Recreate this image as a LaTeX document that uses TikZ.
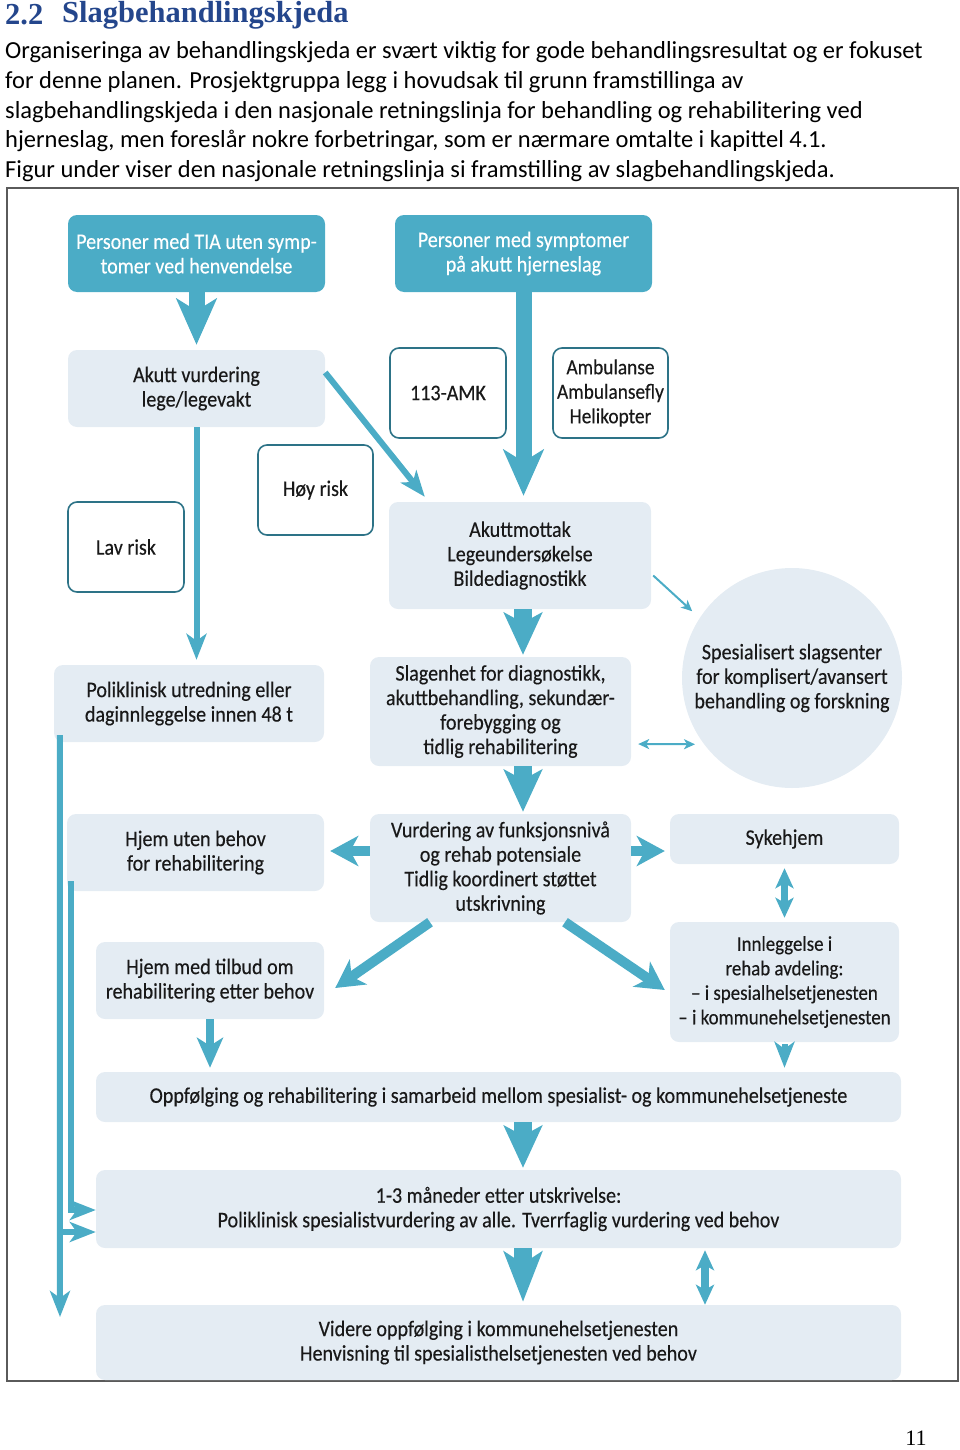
\documentclass[tikz,border=0pt]{standalone}
\usepackage{fontspec}
\setmainfont{Carlito}
\newfontfamily\headfont{Liberation Serif}
\newfontfamily\dfont[FakeStretch=0.9,FakeBold=0.3]{Carlito}
\usetikzlibrary{arrows.meta,calc}
\definecolor{teal1}{RGB}{75,172,198}
\definecolor{light1}{RGB}{228,236,243}
\definecolor{edge1}{RGB}{45,115,135}
\definecolor{head1}{RGB}{36,70,140}
\definecolor{frame1}{RGB}{90,90,90}
\begin{document}
\begin{tikzpicture}[x=1pt,y=-1pt,
  dtext/.style={font=\dfont\fontsize{22.3}{24.5}\selectfont, text=black!90, align=center},
  lbox/.style={dtext, rectangle, rounded corners=9pt, fill=light1, inner sep=0pt},
  tbox/.style={lbox, fill=teal1, text=white},
  wbox/.style={dtext, rectangle, rounded corners=9pt, draw=edge1, line width=1.6pt, fill=white, inner sep=0pt},
  btext/.style={font=\fontsize{24.5}{28}\selectfont, anchor=west, inner sep=0pt},
  fat/.style={draw=teal1, line width=16pt, -{Stealth[length=46pt,width=40pt,inset=12pt]}},
  fatb/.style={draw=teal1, line width=18pt, -{Stealth[length=42pt,width=38pt,inset=10pt]}},
  medarr/.style={draw=teal1, line width=10pt, -{Stealth[length=28pt,width=30pt,inset=8pt]}},
  thinarr/.style={draw=teal1, line width=6pt, -{Stealth[length=26pt,width=20pt,inset=7pt]}},
  dblarr/.style={draw=teal1, line width=7pt, {Stealth[length=20pt,width=18pt,inset=5pt]}-{Stealth[length=20pt,width=18pt,inset=5pt]}},
  hair/.style={draw=teal1, line width=2pt, -{Stealth[length=11pt,width=10pt,inset=3pt]}},
  hairb/.style={draw=teal1, line width=2pt, {Stealth[length=11pt,width=10pt,inset=3pt]}-{Stealth[length=11pt,width=10pt,inset=3pt]}}
]
\useasboundingbox (0,0) rectangle (960,1450);

% heading and body text
\node[btext, font=\headfont\bfseries\fontsize{30.5}{32}\selectfont, text=head1] (h1) at (5,15) {2.2};
\node[btext, font=\headfont\bfseries\fontsize{30.5}{32}\selectfont, text=head1] (h2) at (62,15) {Slagbehandlingskjeda};
\node[btext] (t1) at (5,52) {Organiseringa av behandlingskjeda er svært viktig for gode behandlingsresultat og er fokuset};
\node[btext] (t2) at (5,82) {for denne planen. Prosjektgruppa legg i hovudsak til grunn framstillinga av};
\node[btext] (t3) at (5,112) {slagbehandlingskjeda i den nasjonale retningslinja for behandling og rehabilitering ved};
\node[btext] (t4) at (5,141) {hjerneslag, men foreslår nokre forbetringar, som er nærmare omtalte i kapittel 4.1.};
\node[btext] (t5) at (5,171) {Figur under viser den nasjonale retningslinja si framstilling av slagbehandlingskjeda.};

% frame
\draw[frame1, line width=1.5pt] (7,188) rectangle (958,1381);

% nodes
\node[tbox, minimum width=257pt, minimum height=77pt] (tia) at (196.5,253.5) {Personer med TIA uten symp-\\tomer ved henvendelse};
\node[tbox, minimum width=257pt, minimum height=77pt] (sym) at (523.5,253.5) {Personer med symptomer\\på akutt hjerneslag};
\node[lbox, minimum width=257pt, minimum height=77pt] (akv) at (196.5,388.5) {Akutt vurdering\\lege/legevakt};
\node[wbox, minimum width=116pt, minimum height=90pt] (amk) at (448,393) {113-AMK};
\node[wbox, minimum width=115pt, minimum height=90pt, font=\dfont\fontsize{21.5}{24.5}\selectfont] (amb) at (610.5,393) {Ambulanse\\Ambulansefly\\Helikopter};
\node[wbox, minimum width=115pt, minimum height=90pt] (hoy) at (315.5,490) {Høy risk};
\node[wbox, minimum width=116pt, minimum height=90pt] (lav) at (126,547) {Lav risk};
\node[lbox, minimum width=262pt, minimum height=107pt] (mott) at (520,555.5) {Akuttmottak\\Legeundersøkelse\\Bildediagnostikk};
\node[dtext, circle, fill=light1, minimum size=220pt, inner sep=0pt] (spes) at (792,678) {Spesialisert slagsenter\\for komplisert/avansert\\behandling og forskning};
\node[lbox, minimum width=270pt, minimum height=77pt] (poli) at (189,703.5) {Poliklinisk utredning eller\\daginnleggelse innen 48 t};
\node[lbox, minimum width=261pt, minimum height=109pt] (slag) at (500.5,711.5) {Slagenhet for diagnostikk,\\akuttbehandling, sekundær-\\forebygging og\\tidlig rehabilitering};
\node[lbox, minimum width=257pt, minimum height=77pt] (hjemu) at (195.5,852.5) {Hjem uten behov\\for rehabilitering};
\node[lbox, minimum width=261pt, minimum height=108pt] (vurd) at (500.5,868) {Vurdering av funksjonsnivå\\og rehab potensiale\\Tidlig koordinert støttet\\utskrivning};
\node[lbox, minimum width=229pt, minimum height=50pt] (syk) at (784.5,839) {Sykehjem};
\node[lbox, minimum width=228pt, minimum height=77pt] (hjemm) at (210,980.5) {Hjem med tilbud om\\rehabilitering etter behov};
\node[lbox, minimum width=229pt, minimum height=120pt, font=\dfont\fontsize{21}{24.5}\selectfont] (innl) at (784.5,982) {Innleggelse i\\rehab avdeling:\\– i spesialhelsetjenesten\\– i kommunehelsetjenesten};
\node[lbox, minimum width=805pt, minimum height=50pt] (oppf) at (498.5,1097) {Oppfølging og rehabilitering i samarbeid mellom spesialist- og kommunehelsetjeneste};
\node[lbox, minimum width=805pt, minimum height=78pt] (mnd) at (498.5,1209) {1-3 måneder etter utskrivelse:\\Poliklinisk spesialistvurdering av alle. Tverrfaglig vurdering ved behov};
\node[lbox, minimum width=805pt, minimum height=75pt] (vid) at (498.5,1342.5) {Videre oppfølging i kommunehelsetjenesten\\Henvisning til spesialisthelsetjenesten ved behov};

\node[font=\headfont\fontsize{22}{24}\selectfont, inner sep=0pt] (pg) at (916,1438) {11};

% helper coordinates
\coordinate (colx) at (523,0);
\coordinate (ox) at (60,0);
\coordinate (lend) at (60,1317);
\coordinate (b1) at ($(mnd.west)+(0,23)$);
\coordinate (b2) at ($(mnd.west)+(0,1)$);

% connectors
\draw[fat, shorten >=5pt] (tia.south) -- (tia.south |- akv.north);
\draw[fat, shorten >=6pt] (sym.south) -- (sym.south |- mott.north);
\draw[thinarr, shorten >=5pt] (akv.south) -- (akv.south |- poli.north);
\draw[thinarr] ([yshift=16pt]akv.east) -- ([xshift=36pt,yshift=5pt]mott.north west);
\draw[fatb, shorten >=2pt] (colx |- mott.south) -- (colx |- slag.north);
\draw[fatb, shorten >=2pt] (colx |- slag.south) -- (colx |- vurd.north);
\draw[hair, shorten >=10pt] ([xshift=2pt,yshift=-20pt]mott.east) -- (spes.147);
\draw[hairb, shorten <=7pt, shorten >=9pt] ([yshift=-32.5pt]slag.east) -- (spes.217);
\draw[medarr, shorten >=6pt] ([yshift=17pt]vurd.west) -- ([yshift=1.5pt]hjemu.east);
\draw[medarr, shorten >=5pt] ([yshift=17pt]vurd.east) -- ([yshift=-12pt]syk.west);
\draw[medarr] ([xshift=-70.5pt]vurd.south) -- ([xshift=11pt,yshift=-7.5pt]hjemm.east);
\draw[medarr] ([xshift=64.5pt]vurd.south) -- ([xshift=-5pt,yshift=-8pt]innl.west);
\draw[dblarr, shorten <=4pt, shorten >=4pt] (syk.south) -- (innl.north);
\draw[draw=teal1, line width=8pt, -{Stealth[length=30pt,width=26pt,inset=8pt]}, shorten >=4pt] (hjemm.south) -- (hjemm.south |- oppf.north);
\draw[thinarr, shorten <=2pt, shorten >=4pt] (innl.south) -- (innl.south |- oppf.north);
\draw[fatb, shorten >=2pt] (colx |- oppf.south) -- (colx |- mnd.north);
\draw[fatb, -{Stealth[length=50pt,width=38pt,inset=12pt]}, shorten >=3pt] (colx |- mnd.south) -- (colx |- vid.north);
\draw[dblarr, line width=8pt, shorten <=2pt, shorten >=0pt] ([xshift=206.5pt]mnd.south) -- ([xshift=206.5pt]vid.north);
% left lines
\draw[thinarr] ([xshift=6pt,yshift=7pt]poli.south west) -- (lend);
\draw[thinarr] (ox |- b1) -- (b1);
\draw[thinarr] ([xshift=4pt,yshift=10pt]hjemu.south west) |- (b2);
\end{tikzpicture}
\end{document}
